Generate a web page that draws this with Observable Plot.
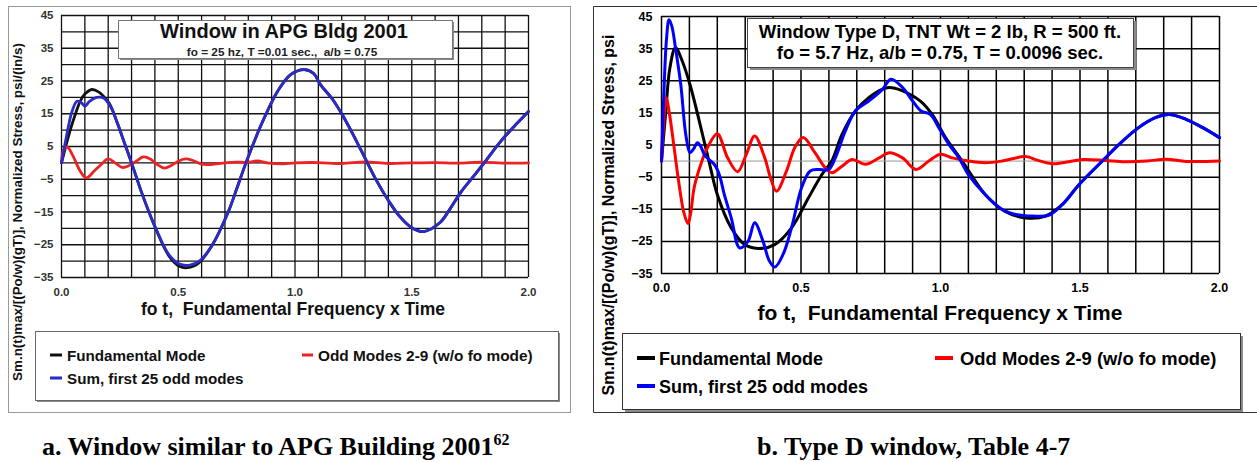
<!DOCTYPE html>
<html><head><meta charset="utf-8">
<script src="https://cdn.jsdelivr.net/npm/d3@7"></script>
<script src="https://cdn.jsdelivr.net/npm/@observablehq/plot@0.6"></script>
<style>
body{margin:0;background:#fff;}
#root{position:relative;width:1257px;height:462px;overflow:hidden;background:#fff;}
#root svg{position:absolute;max-width:none;}
#root text{white-space:pre;}
</style></head><body><div id="root"></div>
<script>
// ---------- data ----------
const xTicks = [0, 0.5, 1.0, 1.5, 2.0];
const yTicks = [45, 35, 25, 15, 5, -5, -15, -25, -35];
const xGrid = [0,0.1,0.2,0.3,0.4,0.5,0.6,0.7,0.8,0.9,1.0,1.1,1.2,1.3,1.4,1.5,1.6,1.7,1.8,1.9,2.0];
const yGridA = [45,40,35,30,25,20,15,10,5,0,-5,-10,-15,-20,-25,-30,-35];
const yGridB = [45,35,25,15,5,-5,-15,-25,-35];

// Panel a: Window in APG Bldg 2001
const aFundamental = [[0,0],[0.02,5.5],[0.04,10.6],[0.06,15],[0.08,18.8],[0.1,21],[0.13,22.4],[0.16,21.6],[0.19,19.5],[0.21,17.5],[0.24,12],[0.27,6],[0.30,0],[0.348,-10],[0.404,-20.2],[0.46,-28.4],[0.503,-31.5],[0.54,-32],[0.587,-30.6],[0.644,-25.3],[0.714,-15],[0.75,-8],[0.79,0],[0.855,11.6],[0.925,21.8],[0.98,26.9],[1.04,28.5],[1.08,27.3],[1.109,23.9],[1.16,19.5],[1.2,15],[1.25,8.5],[1.31,0],[1.35,-5.5],[1.4,-11.5],[1.45,-16.5],[1.5,-19.8],[1.55,-21],[1.62,-18.3],[1.66,-14.5],[1.71,-9],[1.76,-4.5],[1.81,0],[1.88,6.5],[1.95,12],[2.0,15.7]];
const aOddModes = [[0,0],[0.01,4.2],[0.025,4.8],[0.05,2],[0.08,-2.5],[0.106,-4.6],[0.14,-2.5],[0.17,-0.5],[0.2,1.2],[0.23,0],[0.26,-1.4],[0.29,-0.8],[0.32,0.5],[0.35,1.8],[0.38,1.2],[0.41,-0.5],[0.44,-1.6],[0.47,-0.8],[0.5,0.5],[0.53,1.2],[0.56,0.8],[0.6,-0.4],[0.64,-0.5],[0.7,0],[0.75,0.2],[0.8,0.2],[0.84,0.6],[0.88,0],[0.95,-0.3],[1.0,0],[1.1,0.1],[1.2,-0.2],[1.3,0.3],[1.4,-0.2],[1.5,0],[1.6,0.1],[1.7,-0.1],[1.8,0.2],[1.9,-0.1],[2.0,0]];
const aSum = [[0,0],[0.017,6.5],[0.031,11.6],[0.045,15.7],[0.066,18.8],[0.085,18.4],[0.1,17.3],[0.12,18.8],[0.15,20],[0.18,19.8],[0.21,17.2],[0.24,12],[0.27,6],[0.30,0],[0.348,-10],[0.404,-20],[0.46,-28],[0.503,-30.8],[0.55,-31.2],[0.59,-30],[0.644,-25.3],[0.714,-15],[0.75,-8],[0.79,0],[0.855,11.6],[0.925,21.8],[0.98,26.9],[1.04,28.5],[1.08,27.3],[1.109,23.9],[1.16,19.5],[1.2,15],[1.25,8.5],[1.31,0],[1.35,-5.5],[1.4,-11.5],[1.45,-16.5],[1.5,-19.8],[1.55,-21],[1.62,-18.3],[1.66,-14.5],[1.71,-9],[1.76,-4.5],[1.81,0],[1.88,6.5],[1.95,12],[2.0,15.7]];

// Panel b: Window Type D
const bFundamental = [[0,0],[0.015,15],[0.03,29],[0.05,35.3],[0.075,31],[0.105,22.9],[0.141,10.4],[0.17,0],[0.2,-10.4],[0.25,-20.8],[0.298,-26],[0.346,-27.2],[0.406,-26],[0.466,-20.8],[0.527,-11.4],[0.575,-4.2],[0.61,0],[0.647,8.3],[0.695,15.6],[0.743,19.7],[0.79,22.3],[0.816,22.9],[0.86,22],[0.93,18.5],[0.97,14.5],[1.018,7.3],[1.078,0],[1.16,-10.4],[1.23,-15.6],[1.305,-17.7],[1.377,-17.1],[1.437,-13.5],[1.497,-7.3],[1.58,0],[1.64,5.2],[1.71,10.4],[1.77,13.5],[1.82,14.5],[1.88,13],[1.94,10.4],[2.0,7.3]];
const bOddModes = [[0,0],[0.008,12],[0.017,19.7],[0.028,15],[0.039,8.3],[0.063,-7.3],[0.08,-16],[0.095,-19.5],[0.105,-16],[0.117,-8.3],[0.141,-1],[0.165,4.2],[0.2,8.5],[0.237,1],[0.273,-3.3],[0.304,2.1],[0.334,7.8],[0.37,1],[0.39,-5],[0.412,-9.4],[0.448,-3.1],[0.478,4.2],[0.508,7.3],[0.55,2.6],[0.587,-2.1],[0.611,-3.6],[0.647,-1.6],[0.683,0.5],[0.731,-1],[0.78,1],[0.816,2.6],[0.864,1],[0.912,-2.6],[0.958,0],[1.0,2.1],[1.042,1],[1.1,0],[1.16,-0.5],[1.22,0],[1.305,1.4],[1.35,0.2],[1.4,-0.8],[1.46,-0.2],[1.51,0.5],[1.59,0.2],[1.66,-0.2],[1.74,0],[1.81,0.6],[1.88,-0.1],[2.0,0]];
const bSum = [[0,0],[0.008,20],[0.018,38],[0.027,44],[0.037,42],[0.05,35.3],[0.069,23.9],[0.087,8.3],[0.102,2.6],[0.115,3.8],[0.129,5.7],[0.141,4.5],[0.153,2.1],[0.17,0.5],[0.189,-1],[0.207,-4.2],[0.225,-10.4],[0.25,-17.7],[0.28,-27],[0.31,-25],[0.334,-19.2],[0.364,-25],[0.386,-31],[0.406,-33],[0.436,-29],[0.466,-20.8],[0.502,-8.3],[0.533,-3.1],[0.563,-2.6],[0.599,-2.6],[0.623,1],[0.659,9.4],[0.695,15.6],[0.743,18.7],[0.792,22.3],[0.822,25.5],[0.864,22.9],[0.9,18.7],[0.93,15.6],[0.964,14.5],[0.994,10.4],[1.03,5.2],[1.066,1],[1.1,-4.2],[1.16,-10.4],[1.22,-15],[1.27,-16.6],[1.33,-17.1],[1.39,-16.8],[1.437,-13.5],[1.497,-7.3],[1.58,0],[1.64,5.2],[1.71,10.4],[1.77,13.5],[1.82,14.5],[1.88,13],[1.94,10.4],[2.0,7.3]];

const legendLabels = ["Fundamental Mode", "Odd Modes 2-9 (w/o fo mode)", "Sum, first 25 odd modes"];

// ---------- drawing ----------
const root = document.getElementById("root");
const fmt = d => d.toFixed(1);
const lineOpts = (stroke, w) => ({x: d => d[0], y: d => d[1], stroke, strokeWidth: w, curve: "catmull-rom"});

const plotA = Plot.plot({
  width: 590, height: 300,
  marginLeft: 61, marginRight: 62, marginTop: 15, marginBottom: 23,
  x: {domain: [0, 2], label: null},
  y: {domain: [-35, 45], label: null},
  style: {fontFamily: "'Liberation Sans', Arial, sans-serif", fontWeight: "bold", fontSize: "11.5px", color: "#333", background: "transparent"},
  marks: [
    Plot.ruleX(xGrid, {stroke: "#111", strokeWidth: 1.3}),
    Plot.ruleY(yGridA, {stroke: "#111", strokeWidth: 1.3}),
    Plot.line(aFundamental, lineOpts("#111", 2.8)),
    Plot.line(aOddModes, lineOpts("#ee2222", 2.8)),
    Plot.line(aSum, lineOpts("#2b2bc8", 2.8)),
    Plot.axisX({ticks: xTicks, tickFormat: fmt, tickSize: 0, tickPadding: 10}),
    Plot.axisY({ticks: yTicks, tickSize: 0, tickPadding: 8})
  ]
});
plotA.style.left = "0px"; plotA.style.top = "0px";
root.appendChild(plotA);

const plotB = Plot.plot({
  width: 664, height: 300,
  marginLeft: 68, marginRight: 38, marginTop: 16, marginBottom: 27,
  x: {domain: [0, 2], label: null},
  y: {domain: [-35, 45], label: null},
  style: {fontFamily: "'Liberation Sans', Arial, sans-serif", fontWeight: "bold", fontSize: "12.5px", color: "#000", background: "transparent"},
  marks: [
    Plot.ruleX(xGrid, {stroke: "#000", strokeWidth: 1.5}),
    Plot.ruleY(yGridB, {stroke: "#000", strokeWidth: 1.5}),
    Plot.ruleY([0], {stroke: "#999", strokeWidth: 1}),
    Plot.line(bFundamental, lineOpts("#000", 3)),
    Plot.line(bOddModes, lineOpts("#ff0000", 3)),
    Plot.line(bSum, lineOpts("#0000ff", 3)),
    Plot.axisX({ticks: xTicks, tickFormat: fmt, tickSize: 0, tickPadding: 10}),
    Plot.axisY({ticks: yTicks, tickSize: 0, tickPadding: 9})
  ]
});
plotB.style.left = "593px"; plotB.style.top = "0px";
root.appendChild(plotB);

// ---------- overlay: frames, title boxes, legends, captions ----------
const NS = "http://www.w3.org/2000/svg";
const ov = document.createElementNS(NS, "svg");
ov.setAttribute("width", 1257); ov.setAttribute("height", 462);
ov.style.left = "0px"; ov.style.top = "0px";
root.appendChild(ov);
function el(tag, attrs, text) {
  const e = document.createElementNS(NS, tag);
  for (const k in attrs) e.setAttribute(k, attrs[k]);
  if (text != null) e.textContent = text;
  ov.appendChild(e);
  return e;
}
const SANS = "'Liberation Sans', Arial, sans-serif";
const SERIF = "'Liberation Serif', 'Times New Roman', serif";
function txt(x, y, s, size, anchor, extra) {
  return el("text", Object.assign({x, y, "font-family": SANS, "font-weight": "bold", "font-size": size, "text-anchor": anchor || "start", fill: "#000"}, extra || {}), s);
}
function box(x, y, w, h, stroke, sh) {
  el("rect", {x: x + sh, y: y + sh, width: w, height: h, fill: "#8a8a8a"});
  el("rect", {x: x + 0.5, y: y + 0.5, width: w, height: h, fill: "#fff", stroke, "stroke-width": 1});
}

// panel a
el("rect", {x: 8.5, y: 6.5, width: 562, height: 406, fill: "none", stroke: "#9a9a9a", "stroke-width": 1});
box(118, 20, 334, 38, "#777", 2);
txt(284, 37.5, "Window in APG Bldg 2001", 20, "middle", {fill: "#111"});
txt(282, 55.5, "fo = 25 hz, T =0.01 sec.,  a/b = 0.75", 11.8, "middle", {fill: "#222"});
txt(293, 315, "fo t,  Fundamental Frequency x Time", 17.5, "middle", {fill: "#111"});
txt(0, 0, "Sm.n(t)max/[(Po/w)(gT)], Normalized Stress, psi/(in/s)", 13.4, "middle", {transform: "translate(21.8,212) rotate(-90)", fill: "#111"});
box(35, 331, 523, 69, "#666", 2);
el("line", {x1: 50, x2: 62, y1: 355, y2: 355, stroke: "#111", "stroke-width": 3});
txt(67, 360.5, legendLabels[0], 15.2, "start", {fill: "#111"});
el("line", {x1: 302, x2: 313, y1: 355, y2: 355, stroke: "#ee2222", "stroke-width": 3});
txt(318, 360.5, legendLabels[1], 15.4, "start", {fill: "#111"});
el("line", {x1: 50, x2: 62, y1: 378, y2: 378, stroke: "#2b2bc8", "stroke-width": 3});
txt(67, 383.5, legendLabels[2], 15.2, "start", {fill: "#111"});
const capA = el("text", {x: 42, y: 455, "font-family": SERIF, "font-weight": "bold", "font-size": 26, fill: "#000"});
capA.textContent = "a. Window similar to APG Building 2001";
const sup = document.createElementNS(NS, "tspan");
sup.setAttribute("font-size", 16); sup.setAttribute("dy", -10); sup.textContent = "62";
capA.appendChild(sup);

// panel b
el("path", {d: "M1262,6.5 H593.5 V412.5 H1262", fill: "none", stroke: "#333", "stroke-width": 1});
box(747, 18, 386, 49, "#444", 3);
txt(940, 37.5, "Window Type D, TNT Wt = 2 lb, R = 500 ft.", 18.5, "middle");
txt(940, 59, "fo = 5.7 Hz, a/b = 0.75, T = 0.0096 sec.", 18.5, "middle");
txt(940, 319.5, "fo t,  Fundamental Frequency x Time", 21, "middle");
txt(0, 0, "Sm.n(t)max/[(Po/w)(gT)], Normalized Stress, psi", 16, "middle", {transform: "translate(613.7,215) rotate(-90)"});
box(622, 333, 618, 76, "#333", 3);
el("line", {x1: 637, x2: 655, y1: 358, y2: 358, stroke: "#000", "stroke-width": 4});
txt(659, 364.5, legendLabels[0], 18, "start");
el("line", {x1: 935, x2: 953, y1: 358, y2: 358, stroke: "#ff0000", "stroke-width": 4});
txt(960, 364.5, legendLabels[1], 18.4, "start");
el("line", {x1: 637, x2: 655, y1: 386, y2: 386, stroke: "#0000ff", "stroke-width": 4});
txt(659, 392.5, legendLabels[2], 18, "start");
el("text", {x: 757, y: 455, "font-family": SERIF, "font-weight": "bold", "font-size": 26, fill: "#000"}, "b. Type D window, Table 4-7");
</script></body></html>
